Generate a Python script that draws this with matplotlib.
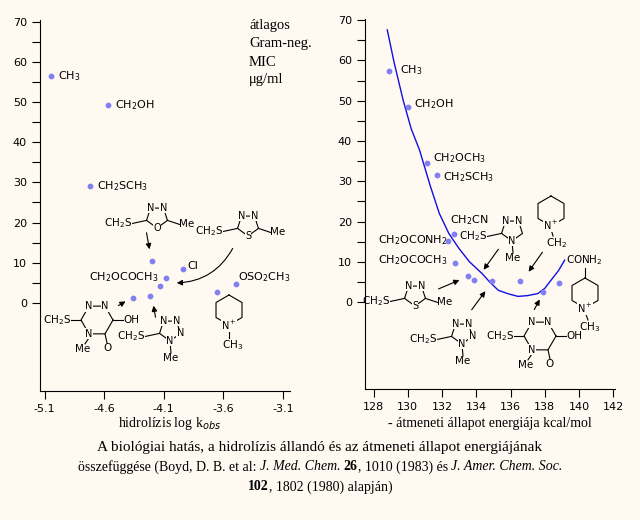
import numpy as np
import matplotlib
matplotlib.use("Agg")
import matplotlib.pyplot as plt
from matplotlib.patches import FancyArrowPatch

plt.rcParams['mathtext.fontset'] = 'dejavusans'
BG = '#FFF9F2'
PT = '#8080F0'

# Left panel: hydrolysis log k_obs vs MIC
left_x = [-5.05, -4.565, -4.72, -4.195, -3.935, -4.078, -4.134, -4.355, -4.22, -3.655, -3.497]
left_y = [56.6, 49.2, 29.0, 10.5, 8.5, 6.1, 4.1, 1.3, 1.6, 2.8, 4.8]
left_xticks = [-5.1, -4.6, -4.1, -3.6, -3.1]
left_xticklabels = ['-5.1', '-4.6', '-4.1', '-3.6', '-3.1']

# Right panel: transition-state energy vs MIC
right_x = [128.9, 130.04, 131.13, 131.7, 132.68, 132.36, 132.74, 133.5, 133.85, 134.94, 136.54, 137.88, 138.84]
right_y = [57.4, 48.5, 34.5, 31.6, 16.9, 15.2, 9.7, 6.5, 5.4, 5.2, 5.2, 2.4, 4.7]
curve_x = [128.8, 129.2, 129.73, 130.2, 130.69, 131.3, 131.84, 132.4, 132.99, 133.6, 134.33, 134.8, 135.29, 135.9, 136.44, 137.0, 137.59, 138.0, 138.36, 138.8, 139.16]
curve_y = [67.6, 59.5, 50.1, 43.0, 37.7, 29.0, 22.0, 17.0, 13.3, 10.0, 7.1, 4.9, 2.9, 2.0, 1.4, 1.6, 2.1, 3.4, 5.4, 7.8, 10.4]
right_xticks = [128, 130, 132, 134, 136, 138, 140, 142]
yticks = [0, 10, 20, 30, 40, 50, 60, 70]

fig = plt.figure(figsize=(6.4, 5.2), dpi=100, facecolor=BG)

def style(ax):
    ax.set_facecolor(BG)
    for s in ['top', 'right']:
        ax.spines[s].set_visible(False)
    ax.set_yticks(yticks)
    ax.set_yticks([5, 15, 25, 35, 45, 55, 65], minor=True)
    ax.tick_params(direction='out', length=6, labelsize=8, width=0.8)
    ax.tick_params(which='minor', direction='out', length=6, width=0.8)

axL = fig.add_axes([40/640, 129/520, 250/640, 371/520])
style(axL)
axL.scatter(left_x, left_y, s=10, color=PT, zorder=3)
axL.set_xlim(-5.14, -3.04)
axL.set_ylim(-22, 70.5)
axL.set_xticks(left_xticks)
axL.set_xticklabels(left_xticklabels)

axR = fig.add_axes([365/640, 131/520, 250/640, 370/520])
style(axR)
axR.plot(curve_x, curve_y, color='#1010E0', lw=1)
axR.scatter(right_x, right_y, s=10, color=PT, zorder=3)
axR.set_xlim(127.5, 142.1)
axR.set_ylim(-21.6, 70.3)
axR.set_xticks(right_xticks)

# overlay in pixel coordinates
ov = fig.add_axes([0, 0, 1, 1], facecolor='none')
ov.set_xlim(0, 640); ov.set_ylim(520, 0); ov.axis('off')

SERIF = 'Liberation Serif'
def t(x, y, s, fs=7.5, ha='left', va='center', bg=False, **kw):
    ov.text(x, y, s, fontsize=fs, ha=ha, va=va,
            bbox=dict(facecolor=BG, edgecolor='none', pad=0.3) if bg else None, **kw)

def arrow(p, q, rad=0.0):
    ov.add_patch(FancyArrowPatch(p, q, arrowstyle='-|>', mutation_scale=8, lw=0.8,
                                 color='black', connectionstyle=f'arc3,rad={rad}'))

def ring(cx, cy, r, n, labels, rot=90):
    ang = np.deg2rad(rot + 360/n*np.arange(n))
    xs = cx + r*np.cos(ang); ys = cy - r*np.sin(ang)
    ov.plot(np.r_[xs, xs[0]], np.r_[ys, ys[0]], color='black', lw=0.8)
    for i, lab in enumerate(labels):
        if lab:
            t(xs[i], ys[i], lab, fs=7, ha='center', bg=True)
    return xs, ys

def bond(p, q):
    ov.plot([p[0], q[0]], [p[1], q[1]], color='black', lw=0.8)

def five(cx, cy, labels, left, right=None, bottom=None, r=11):
    xs, ys = ring(cx, cy, r, 5, labels, rot=54)
    bond((xs[2], ys[2]), (xs[2]-14, ys[2]+3)); t(xs[2]-14, ys[2]+3, left, ha='right')
    if right:
        bond((xs[4], ys[4]), (xs[4]+12, ys[4]+4)); t(xs[4]+12, ys[4]+4, right)
    if bottom:
        bond((xs[3], ys[3]), (xs[3]+1, ys[3]+12)); t(xs[3]+1, ys[3]+17, bottom, ha='center')
    return xs, ys

def six(cx, cy, r=15, rot=90):
    return ring(cx, cy, r, 6, ['']*6, rot=rot)

def triazinone(cx, cy):
    xs, ys = six(cx, cy, r=16, rot=0)
    t(xs[1], ys[1], 'N', fs=7, ha='center', bg=True)
    t(xs[2], ys[2], 'N', fs=7, ha='center', bg=True)
    t(xs[4], ys[4], 'N', fs=7, ha='center', bg=True)
    bond((xs[0], ys[0]), (xs[0]+10, ys[0])); t(xs[0]+10, ys[0], 'OH', fs=7.5)
    bond((xs[5], ys[5]), (xs[5]+2, ys[5]+9)); t(xs[5]+2, ys[5]+14, 'O', fs=7.5, ha='center')
    bond((xs[4], ys[4]+4), (xs[4]-4, ys[4]+10)); t(xs[4]-6, ys[4]+15, 'Me', fs=7.5, ha='center')
    bond((xs[3], ys[3]), (xs[3]-10, ys[3])); t(xs[3]-10, ys[3], r'CH$_2$S', ha='right')

# ---- left panel annotations
t(58, 76, r'CH$_3$', fs=8)
t(115, 105, r'CH$_2$OH', fs=8)
t(97, 186, r'CH$_2$SCH$_3$', fs=8)
t(89, 277, r'CH$_2$OCOCH$_3$', fs=8)
t(187, 266, 'Cl', fs=8)
t(238, 277, r'OSO$_2$CH$_3$', fs=8)
five(157, 217, ['N', 'N', '', 'O', ''], r'CH$_2$S', 'Me')
arrow((146, 230), (150, 252))
five(248, 225, ['N', 'N', '', 'S', ''], r'CH$_2$S', 'Me')
arrow((234, 246), (174, 283), rad=-0.3)
six(229, 310)
t(229, 325, r'N$^+$', fs=7, ha='center', bg=True)
bond((229, 330), (229, 338)); t(233, 345, r'CH$_3$', ha='center')
triazinone(97, 320)
arrow((116, 307), (128, 300))
five(170, 330, ['N', 'N', '', 'N', 'N'], r'CH$_2$S', None, 'Me')
arrow((156, 320), (153, 303))

# ---- right panel annotations
t(400, 70, r'CH$_3$', fs=8)
t(414, 104, r'CH$_2$OH', fs=8)
t(433, 158, r'CH$_2$OCH$_3$', fs=8)
t(443, 177, r'CH$_2$SCH$_3$', fs=8)
t(450, 220, r'CH$_2$CN', fs=8)
t(378, 240, r'CH$_2$OCONH$_2$', fs=8)
t(378, 260, r'CH$_2$OCOCH$_3$', fs=8)
five(415, 295, ['N', 'N', '', 'S', ''], r'CH$_2$S', 'Me')
arrow((436, 290), (462, 279))
five(462, 333, ['N', 'N', '', 'N', 'N'], r'CH$_2$S', None, 'Me')
arrow((470, 312), (487, 289))
five(512, 230, ['N', 'N', '', 'N', ''], r'CH$_2$S', None, 'Me')
arrow((500, 247), (482, 272))
six(551, 211)
t(551, 225, r'N$^+$', fs=7, ha='center', bg=True)
bond((551, 229), (553, 236)); t(556, 243, r'CH$_2$', ha='center')
arrow((544, 250), (527, 274))
triazinone(540, 336)
arrow((533, 312), (541, 297))
six(585, 293)
t(585, 308, r'N$^+$', fs=7, ha='center', bg=True)
bond((585, 312), (588, 320)); t(590, 327, r'CH$_3$', ha='center')
bond((585, 278), (585, 268)); t(584, 260, r'CONH$_2$', ha='center')

# ---- legend text and axis labels
for i, s in enumerate(['átlagos', 'Gram-neg.', 'MIC', 'μg/ml']):
    ov.text(249, 26 + 18*i, s, fontsize=10.5, family=SERIF, va='center')
ov.text(170, 424, r'hidrolízis log k$_{obs}$', fontsize=10, family=SERIF, ha='center', va='center')
ov.text(490, 424, '- átmeneti állapot energiája kcal/mol', fontsize=10, family=SERIF, ha='center', va='center')

ov.text(320, 448, 'A biológiai hatás, a hidrolízis állandó és az átmeneti állapot energiájának',
        fontsize=11, family=SERIF, ha='center', va='center')
line2 = [('összefüggése (Boyd, D. B. et al: ', 'normal', 'normal'), ('J. Med. Chem.', 'italic', 'normal'),
         (' ', 'normal', 'normal'), ('26', 'normal', 'bold'), (', 1010 (1983) és ', 'normal', 'normal'),
         ('J. Amer. Chem. Soc.', 'italic', 'normal')]
line3 = [('102', 'normal', 'bold'), (', 1802 (1980) alapján)', 'normal', 'normal')]

fig.canvas.draw()
r = fig.canvas.get_renderer()
def seg_line(parts, y):
    widths = []
    objs = []
    for s, st, wt in parts:
        o = ov.text(0, y, s, fontsize=10, family=SERIF, style=st, weight=wt, va='center')
        objs.append(o)
        widths.append(o.get_window_extent(renderer=r).width)
    x = 320 - sum(widths)/2
    for o, w in zip(objs, widths):
        o.set_x(x); x += w
seg_line(line2, 467)
seg_line(line3, 487)

fig.savefig('out.png', dpi=100, facecolor=BG)
